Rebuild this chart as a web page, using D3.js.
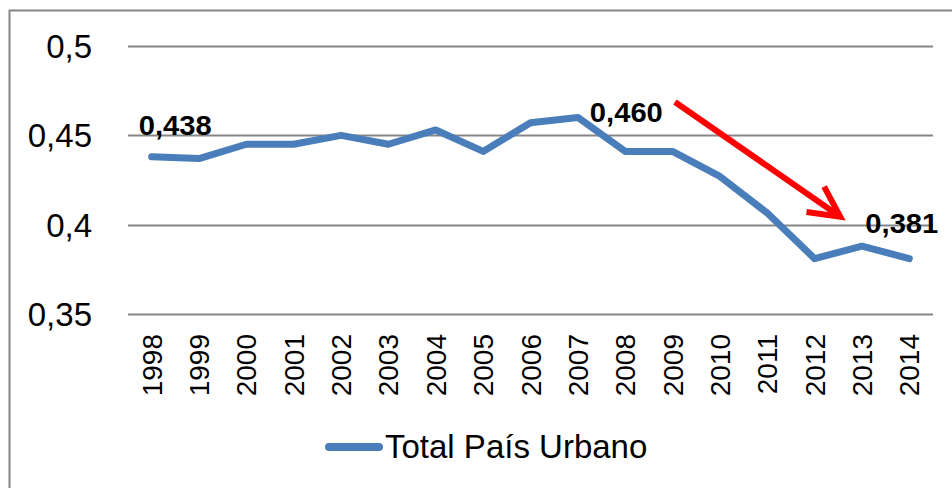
<!DOCTYPE html>
<html><head><meta charset="utf-8">
<script src="https://cdn.jsdelivr.net/npm/d3@7"></script>
<style>html,body{margin:0;padding:0;background:#fff;}svg{display:block;}</style>
</head><body>
<svg id="c" width="952" height="488"></svg>
<script>
const years = ["1998","1999","2000","2001","2002","2003","2004","2005","2006","2007","2008","2009","2010","2011","2012","2013","2014"];
const values = [0.438,0.437,0.445,0.445,0.450,0.445,0.453,0.441,0.457,0.460,0.441,0.441,0.427,0.4065,0.381,0.388,0.381];
const yTicks = [0.35,0.40,0.45,0.50];
const yTickLabels = ["0,35","0,4","0,45","0,5"];
const dataLabelYears = ["1998","2007","2014"];
const dataLabelTexts = ["0,438","0,460","0,381"];
const seriesName = "Total País Urbano";
// arrow annotation in data space: [category index, value]
const arrowFrom = [11.05, 0.4687];
const arrowTo = [14.54, 0.4045];

const svg = d3.select("#c");
const L = 128, R = 933, T = 46, B = 314;
const x = d3.scalePoint().domain(years).range([L, R]).padding(0.5);
const xi = d3.scaleLinear().domain([-0.5, years.length - 0.5]).range([L, R]);
const y = d3.scaleLinear().domain([0.35, 0.5]).range([B, T]);
const grey = "#868686";

// frame
svg.append("path").attr("d", "M9.5,488 V10.5 H952").attr("fill","none").attr("stroke", grey).attr("stroke-width", 2);

// gridlines
svg.append("g").selectAll("line").data(yTicks).join("line")
  .attr("x1", L).attr("x2", R).attr("y1", d => Math.round(y(d)) + 0.5).attr("y2", d => Math.round(y(d)) + 0.5)
  .attr("stroke", grey).attr("stroke-width", 2);

// y labels
svg.append("g").selectAll("text").data(yTicks).join("text")
  .attr("x", 92).attr("y", d => y(d)).attr("dy", "0.36em").attr("text-anchor", "end")
  .attr("font-family", "Liberation Sans, Arial, sans-serif").attr("font-size", 33).attr("fill", "#000")
  .text((d, i) => yTickLabels[i]);

// x labels
svg.append("g").selectAll("text").data(years).join("text")
  .attr("transform", d => `translate(${x(d) + 10},334) rotate(-90)`)
  .attr("text-anchor", "end")
  .attr("font-family", "Liberation Sans, Arial, sans-serif").attr("font-size", 28).attr("fill", "#000")
  .text(d => d);

// line
const line = d3.line().x((d, i) => x(years[i])).y(d => y(d));
svg.append("path").datum(values).attr("d", line)
  .attr("fill", "none").attr("stroke", "#4A7EBB").attr("stroke-width", 7)
  .attr("stroke-linejoin", "round").attr("stroke-linecap", "round");

// data labels
const offsets = [[-13, -22], [12, 5], [-44, -26]];
svg.append("g").selectAll("text").data(dataLabelYears).join("text")
  .attr("x", (d, i) => x(d) + offsets[i][0])
  .attr("y", (d, i) => y(values[years.indexOf(d)]) + offsets[i][1])
  .attr("font-family", "Liberation Sans, Arial, sans-serif").attr("font-weight", "bold").attr("font-size", 27)
  .attr("textLength", 73).attr("lengthAdjust", "spacingAndGlyphs").attr("fill", "#000")
  .text((d, i) => dataLabelTexts[i]);

// arrow
const ax1 = xi(arrowFrom[0]), ay1 = y(arrowFrom[1]), ax2 = xi(arrowTo[0]), ay2 = y(arrowTo[1]);
const ang = Math.atan2(ay2 - ay1, ax2 - ax1);
const hl = 34, ha = 27 * Math.PI / 180;
const p1 = [ax2 - hl * Math.cos(ang - ha), ay2 - hl * Math.sin(ang - ha)];
const p2 = [ax2 - hl * Math.cos(ang + ha), ay2 - hl * Math.sin(ang + ha)];
svg.append("line").attr("x1", ax1).attr("y1", ay1).attr("x2", ax2 - 3*Math.cos(ang)).attr("y2", ay2 - 3*Math.sin(ang))
  .attr("stroke", "#FF0000").attr("stroke-width", 6);
svg.append("path").attr("d", `M${p1[0]},${p1[1]} L${ax2},${ay2} L${p2[0]},${p2[1]}`)
  .attr("fill", "none").attr("stroke", "#FF0000").attr("stroke-width", 6).attr("stroke-linejoin", "miter");

// legend
svg.append("line").attr("x1", 329).attr("x2", 379).attr("y1", 447).attr("y2", 447)
  .attr("stroke", "#4A7EBB").attr("stroke-width", 8).attr("stroke-linecap", "round");
svg.append("text").attr("x", 385).attr("y", 458)
  .attr("font-family", "Liberation Sans, Arial, sans-serif").attr("font-size", 33).attr("fill", "#000")
  .text(seriesName);
</script>
</body></html>
